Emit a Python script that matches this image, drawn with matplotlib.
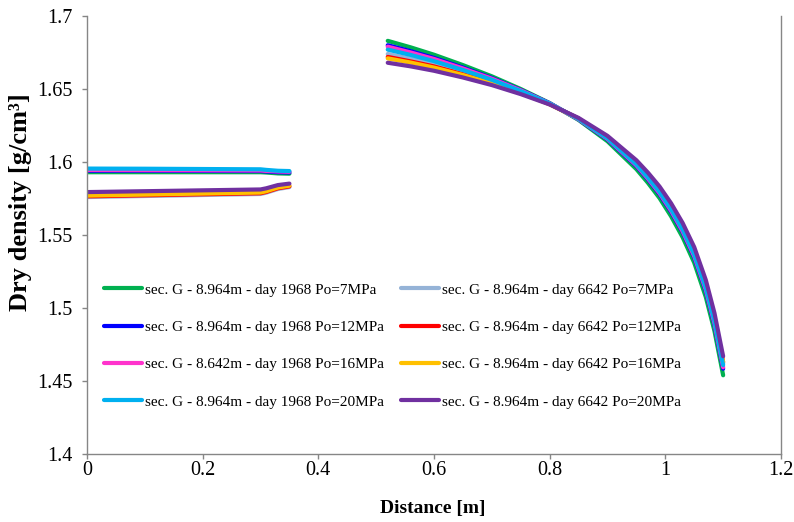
import matplotlib
matplotlib.use("Agg")
import matplotlib.pyplot as plt

plt.rcParams['font.family'] = ['Liberation Serif', 'DejaVu Serif']

# Distances [m]
x_left = [0.0, 0.1, 0.2, 0.3, 0.31, 0.33, 0.35]
x_right = [0.52, 0.56, 0.6, 0.65, 0.7, 0.75, 0.8, 0.85, 0.9, 0.95, 0.97,
           0.99, 1.01, 1.03, 1.05, 1.07, 1.085, 1.1]

# Dry density [g/cm3] - day 1968
d1968_7_left = [1.5930, 1.5930, 1.5930, 1.5930, 1.5928, 1.5922, 1.5920]
d1968_12_left = [1.5940, 1.5940, 1.5939, 1.5938, 1.5935, 1.5930, 1.5928]
d1968_16_left = [1.5945, 1.5944, 1.5943, 1.5942, 1.5939, 1.5935, 1.5933]
d1968_20_left = [1.5955, 1.5954, 1.5952, 1.5950, 1.5946, 1.5940, 1.5938]
d1968_7_right = [1.6830, 1.6785, 1.6735, 1.6664, 1.6587, 1.6500, 1.6404, 1.6288, 1.6142,
                 1.5951, 1.5857, 1.5753, 1.5628, 1.5484, 1.5310, 1.5075, 1.4842, 1.4539]
d1968_12_right = [1.6800, 1.6759, 1.6713, 1.6647, 1.6575, 1.6493, 1.6402, 1.6292, 1.6155,
                  1.5972, 1.5881, 1.5780, 1.5659, 1.5518, 1.5347, 1.5116, 1.4885, 1.4584]
d1968_16_right = [1.6790, 1.6750, 1.6706, 1.6641, 1.6571, 1.6491, 1.6401, 1.6293, 1.6158,
                  1.5977, 1.5886, 1.5786, 1.5666, 1.5525, 1.5355, 1.5125, 1.4894, 1.4594]
d1968_20_right = [1.6770, 1.6733, 1.6691, 1.6630, 1.6563, 1.6486, 1.6400, 1.6295, 1.6162,
                  1.5984, 1.5894, 1.5795, 1.5676, 1.5537, 1.5367, 1.5138, 1.4909, 1.4609]

# day 6642
d6642_7_left = [1.5760, 1.5767, 1.5774, 1.5781, 1.5790, 1.5815, 1.5828]
d6642_12_left = [1.5765, 1.5772, 1.5779, 1.5786, 1.5795, 1.5820, 1.5833]
d6642_16_left = [1.5770, 1.5777, 1.5784, 1.5791, 1.5800, 1.5825, 1.5838]
d6642_20_left = [1.5794, 1.5800, 1.5806, 1.5812, 1.5820, 1.5842, 1.5852]
d6642_7_right = [1.6740, 1.6707, 1.6669, 1.6613, 1.6551, 1.6479, 1.6398, 1.6296, 1.6165,
                 1.5988, 1.5900, 1.5801, 1.5683, 1.5544, 1.5375, 1.5147, 1.4918, 1.4619]
d6642_12_right = [1.6720, 1.6689, 1.6655, 1.6601, 1.6543, 1.6475, 1.6396, 1.6297, 1.6168,
                  1.5993, 1.5905, 1.5807, 1.5689, 1.5551, 1.5383, 1.5156, 1.4927, 1.4629]
d6642_16_right = [1.6710, 1.6681, 1.6647, 1.6596, 1.6539, 1.6472, 1.6396, 1.6297, 1.6168,
                  1.5993, 1.5905, 1.5807, 1.5689, 1.5551, 1.5383, 1.5156, 1.4927, 1.4629]
d6642_20_right = [1.6680, 1.6655, 1.6625, 1.6579, 1.6527, 1.6465, 1.6394, 1.6302, 1.6179,
                  1.6012, 1.5927, 1.5832, 1.5717, 1.5582, 1.5417, 1.5192, 1.4965, 1.4669]

labels = [
    "sec. G - 8.964m - day 1968 Po=7MPa",
    "sec. G - 8.964m - day 6642 Po=7MPa",
    "sec. G - 8.964m - day 1968 Po=12MPa",
    "sec. G - 8.964m - day 6642 Po=12MPa",
    "sec. G - 8.642m - day 1968 Po=16MPa",
    "sec. G - 8.964m - day 6642 Po=16MPa",
    "sec. G - 8.964m - day 1968 Po=20MPa",
    "sec. G - 8.964m - day 6642 Po=20MPa",
]
colors = ["#00B050", "#95B3D7", "#0000FF", "#FF0000",
          "#FF33CC", "#FFC000", "#00B0F0", "#7030A0"]
lefts = [d1968_7_left, d6642_7_left, d1968_12_left, d6642_12_left,
         d1968_16_left, d6642_16_left, d1968_20_left, d6642_20_left]
rights = [d1968_7_right, d6642_7_right, d1968_12_right, d6642_12_right,
          d1968_16_right, d6642_16_right, d1968_20_right, d6642_20_right]

fig = plt.figure(figsize=(7.94, 5.22), dpi=100)
ax = fig.add_axes([0.1096, 0.1303, 0.8740, 0.8390])

handles = []
for lab, c, yl, yr in zip(labels, colors, lefts, rights):
    h, = ax.plot(x_left, yl, color=c, lw=3, solid_capstyle='round',
                 solid_joinstyle='round', label=lab)
    ax.plot(x_right, yr, color=c, lw=3, solid_capstyle='round',
            solid_joinstyle='round')
    handles.append(h)

ax.set_xlim(0, 1.2)
ax.set_ylim(1.4, 1.7)
ax.set_xticks([0, 0.2, 0.4, 0.6, 0.8, 1.0, 1.2])
ax.set_xticklabels(["0", "0.2", "0.4", "0.6", "0.8", "1", "1.2"])
ax.set_yticks([1.4, 1.45, 1.5, 1.55, 1.6, 1.65, 1.7])
ax.set_yticklabels(["1.4", "1.45", "1.5", "1.55", "1.6", "1.65", "1.7"])
ax.tick_params(direction='out', length=3.6, width=1, color='#868686', labelsize=14.5)
ax.tick_params(axis='y', pad=7)
ax.tick_params(axis='x', pad=1.5)
for s in ax.spines.values():
    s.set_color('#868686')
    s.set_linewidth(1)
ax.spines['top'].set_visible(False)

fig.text(433 / 794, 1 - 508 / 522, "Distance [m]", fontsize=14, fontweight='bold',
         ha='center', va='center')
fig.text(21 / 794, 1 - 202 / 522, "Dry density [g/cm³]", fontsize=19,
         fontweight='bold', rotation=90, ha='center', va='center')

order = [0, 2, 4, 6, 1, 3, 5, 7]
ax.legend([handles[i] for i in order], [labels[i] for i in order], ncol=2,
          loc='upper left', bbox_to_anchor=(0.004, 0.422), frameon=False,
          fontsize=11, handlelength=2.5, handletextpad=0.2, labelspacing=1.55,
          columnspacing=1.1)

fig.savefig("out.png", dpi=100)
